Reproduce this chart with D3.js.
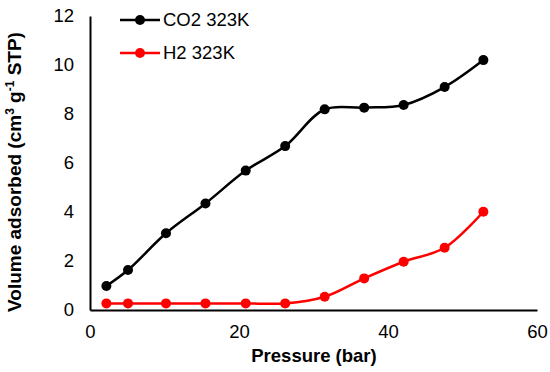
<!DOCTYPE html>
<html><head><meta charset="utf-8">
<script src="https://cdn.jsdelivr.net/npm/d3@7/dist/d3.min.js"></script>
<style>body{margin:0;background:#fff}svg{display:block;font-family:"Liberation Sans",Arial,sans-serif}</style>
</head><body><svg id="c" width="550" height="372"></svg>
<script>
const pressure = [2.2, 5.1, 10.2, 15.5, 20.9, 26.2, 31.5, 36.8, 42.1, 47.6, 52.8];
const co2 = [0.98, 1.63, 3.13, 4.35, 5.69, 6.69, 8.19, 8.26, 8.37, 9.1, 10.2];
const h2 = [0.27, 0.27, 0.27, 0.27, 0.27, 0.27, 0.54, 1.29, 1.97, 2.54, 4.01];
const xTicks = [0, 20, 40, 60];
const yTicks = [0, 2, 4, 6, 8, 10, 12];
const seriesNames = ["CO2 323K", "H2 323K"];
const seriesColors = ["#000000", "#ff0000"];

const svg = d3.select("#c");
const x = d3.scaleLinear().domain([0, 60]).range([90, 537]);
const y = d3.scaleLinear().domain([0, 12]).range([310, 16]);

// axes
const xa = svg.append("g").attr("transform", "translate(0,310)")
  .call(d3.axisBottom(x).tickValues(xTicks).tickSize(0).tickPadding(15));
const ya = svg.append("g").attr("transform", "translate(90,0)")
  .call(d3.axisLeft(y).tickValues(yTicks).tickSize(0).tickPadding(16));
[xa, ya].forEach(a => {
  a.select(".domain").attr("stroke", "#000").attr("stroke-width", 2);
  a.selectAll("text").attr("font-size", 18.5).attr("fill", "#000")
    .attr("font-family", "Liberation Sans, Arial, sans-serif");
});

// titles
svg.append("text").attr("x", 314).attr("y", 362).attr("text-anchor", "middle")
  .attr("font-size", 18.5).attr("font-weight", "bold").text("Pressure (bar)");
const yt = svg.append("text").attr("transform", "translate(21,172) rotate(-90)")
  .attr("text-anchor", "middle").attr("font-size", 19).attr("font-weight", "bold");
yt.append("tspan").text("Volume adsorbed (cm");
yt.append("tspan").attr("font-size", 12).attr("dy", -7).text("3");
yt.append("tspan").attr("dy", 7).text(" g");
yt.append("tspan").attr("font-size", 12).attr("dy", -7).text("-1");
yt.append("tspan").attr("dy", 7).text(" STP)");

// series
const data = [co2, h2];
const line = d3.line().x(d => x(d[0])).y(d => y(d[1])).curve(d3.curveCatmullRom.alpha(0.5));
data.forEach((vals, i) => {
  const pts = pressure.map((p, j) => [p, vals[j]]);
  svg.append("path").attr("d", line(pts)).attr("fill", "none")
    .attr("stroke", seriesColors[i]).attr("stroke-width", 2.5);
  svg.append("g").selectAll("circle").data(pts).join("circle")
    .attr("cx", d => x(d[0])).attr("cy", d => y(d[1])).attr("r", 5)
    .attr("fill", seriesColors[i]);
});

// legend
seriesNames.forEach((n, i) => {
  const ly = 20 + i * 33;
  svg.append("line").attr("x1", 120).attr("x2", 160).attr("y1", ly).attr("y2", ly)
    .attr("stroke", seriesColors[i]).attr("stroke-width", 2.5);
  svg.append("circle").attr("cx", 140).attr("cy", ly).attr("r", 5).attr("fill", seriesColors[i]);
  svg.append("text").attr("x", 163).attr("y", ly).attr("dy", "0.35em")
    .attr("font-size", 18.5).text(n);
});
</script></body></html>
